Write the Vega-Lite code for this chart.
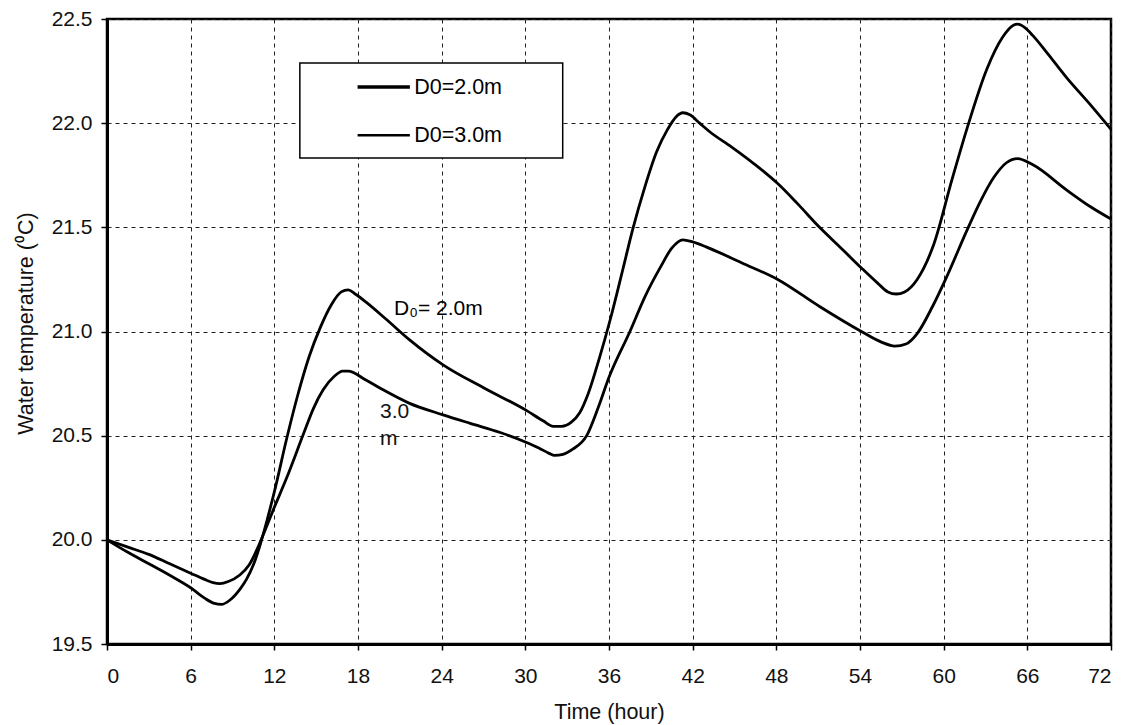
{
  "$schema": "https://vega.github.io/schema/vega-lite/v6.json",
  "autosize": {"type": "none"},
  "width": 1004,
  "height": 625,
  "padding": {"left": 107, "top": 19, "right": 14, "bottom": 81},
  "background": "white",
  "config": {
    "view": {"stroke": "black", "strokeWidth": 2.5},
    "font": "Liberation Sans",
    "axis": {
      "gridColor": "#222",
      "gridDash": [4, 4],
      "gridWidth": 1,
      "gridOpacity": 1,
      "domainColor": "black",
      "domainWidth": 3,
      "tickColor": "black",
      "tickWidth": 1.5,
      "tickSize": 6,
      "labelColor": "#111",
      "labelFont": "Liberation Sans",
      "labelFontSize": 21,
      "titleFont": "Liberation Sans",
      "titleFontSize": 21.5,
      "titleFontWeight": "normal",
      "titleColor": "#111"
    }
  },
  "datasets": {
    "temps": [
      {"hour": 0, "temp": 20.0, "series": "D0=2.0m"},
      {"hour": 1.5, "temp": 19.94, "series": "D0=2.0m"},
      {"hour": 3, "temp": 19.885, "series": "D0=2.0m"},
      {"hour": 4.5, "temp": 19.83, "series": "D0=2.0m"},
      {"hour": 6, "temp": 19.77, "series": "D0=2.0m"},
      {"hour": 7, "temp": 19.72, "series": "D0=2.0m"},
      {"hour": 7.7, "temp": 19.695, "series": "D0=2.0m"},
      {"hour": 8.2, "temp": 19.69, "series": "D0=2.0m"},
      {"hour": 8.8, "temp": 19.71, "series": "D0=2.0m"},
      {"hour": 9.5, "temp": 19.76, "series": "D0=2.0m"},
      {"hour": 10, "temp": 19.81, "series": "D0=2.0m"},
      {"hour": 10.5, "temp": 19.88, "series": "D0=2.0m"},
      {"hour": 11, "temp": 19.98, "series": "D0=2.0m"},
      {"hour": 11.5, "temp": 20.1, "series": "D0=2.0m"},
      {"hour": 12, "temp": 20.23, "series": "D0=2.0m"},
      {"hour": 12.9, "temp": 20.49, "series": "D0=2.0m"},
      {"hour": 13.7, "temp": 20.7, "series": "D0=2.0m"},
      {"hour": 14.5, "temp": 20.88, "series": "D0=2.0m"},
      {"hour": 15.3, "temp": 21.02, "series": "D0=2.0m"},
      {"hour": 16.1, "temp": 21.13, "series": "D0=2.0m"},
      {"hour": 16.8, "temp": 21.19, "series": "D0=2.0m"},
      {"hour": 17.3, "temp": 21.2, "series": "D0=2.0m"},
      {"hour": 17.8, "temp": 21.18, "series": "D0=2.0m"},
      {"hour": 18.6, "temp": 21.14, "series": "D0=2.0m"},
      {"hour": 20, "temp": 21.06, "series": "D0=2.0m"},
      {"hour": 21.7, "temp": 20.96, "series": "D0=2.0m"},
      {"hour": 24.1, "temp": 20.84, "series": "D0=2.0m"},
      {"hour": 27, "temp": 20.73, "series": "D0=2.0m"},
      {"hour": 30.1, "temp": 20.62, "series": "D0=2.0m"},
      {"hour": 31.3, "temp": 20.57, "series": "D0=2.0m"},
      {"hour": 32, "temp": 20.545, "series": "D0=2.0m"},
      {"hour": 32.6, "temp": 20.545, "series": "D0=2.0m"},
      {"hour": 33.3, "temp": 20.565, "series": "D0=2.0m"},
      {"hour": 33.9, "temp": 20.61, "series": "D0=2.0m"},
      {"hour": 34.5, "temp": 20.7, "series": "D0=2.0m"},
      {"hour": 35.3, "temp": 20.87, "series": "D0=2.0m"},
      {"hour": 36.1, "temp": 21.06, "series": "D0=2.0m"},
      {"hour": 37, "temp": 21.3, "series": "D0=2.0m"},
      {"hour": 37.7, "temp": 21.49, "series": "D0=2.0m"},
      {"hour": 38.6, "temp": 21.7, "series": "D0=2.0m"},
      {"hour": 39.4, "temp": 21.86, "series": "D0=2.0m"},
      {"hour": 40.2, "temp": 21.97, "series": "D0=2.0m"},
      {"hour": 40.8, "temp": 22.03, "series": "D0=2.0m"},
      {"hour": 41.3, "temp": 22.05, "series": "D0=2.0m"},
      {"hour": 41.8, "temp": 22.04, "series": "D0=2.0m"},
      {"hour": 42.5, "temp": 22.0, "series": "D0=2.0m"},
      {"hour": 43.2, "temp": 21.96, "series": "D0=2.0m"},
      {"hour": 44.8, "temp": 21.885, "series": "D0=2.0m"},
      {"hour": 46.4, "temp": 21.805, "series": "D0=2.0m"},
      {"hour": 48.1, "temp": 21.71, "series": "D0=2.0m"},
      {"hour": 49.5, "temp": 21.615, "series": "D0=2.0m"},
      {"hour": 51.1, "temp": 21.5, "series": "D0=2.0m"},
      {"hour": 52.8, "temp": 21.39, "series": "D0=2.0m"},
      {"hour": 54.1, "temp": 21.305, "series": "D0=2.0m"},
      {"hour": 55.3, "temp": 21.23, "series": "D0=2.0m"},
      {"hour": 56, "temp": 21.19, "series": "D0=2.0m"},
      {"hour": 56.6, "temp": 21.18, "series": "D0=2.0m"},
      {"hour": 57.2, "temp": 21.19, "series": "D0=2.0m"},
      {"hour": 58.1, "temp": 21.25, "series": "D0=2.0m"},
      {"hour": 59.3, "temp": 21.42, "series": "D0=2.0m"},
      {"hour": 60.6, "temp": 21.73, "series": "D0=2.0m"},
      {"hour": 61.7, "temp": 21.98, "series": "D0=2.0m"},
      {"hour": 63.1, "temp": 22.26, "series": "D0=2.0m"},
      {"hour": 64.2, "temp": 22.41, "series": "D0=2.0m"},
      {"hour": 65, "temp": 22.47, "series": "D0=2.0m"},
      {"hour": 65.3, "temp": 22.475, "series": "D0=2.0m"},
      {"hour": 65.8, "temp": 22.46, "series": "D0=2.0m"},
      {"hour": 66.4, "temp": 22.42, "series": "D0=2.0m"},
      {"hour": 67.5, "temp": 22.33, "series": "D0=2.0m"},
      {"hour": 68.8, "temp": 22.22, "series": "D0=2.0m"},
      {"hour": 70.5, "temp": 22.09, "series": "D0=2.0m"},
      {"hour": 72, "temp": 21.97, "series": "D0=2.0m"},
      {"hour": 0, "temp": 20.0, "series": "D0=3.0m"},
      {"hour": 1.5, "temp": 19.965, "series": "D0=3.0m"},
      {"hour": 3, "temp": 19.93, "series": "D0=3.0m"},
      {"hour": 4.5, "temp": 19.885, "series": "D0=3.0m"},
      {"hour": 6, "temp": 19.84, "series": "D0=3.0m"},
      {"hour": 7, "temp": 19.81, "series": "D0=3.0m"},
      {"hour": 7.6, "temp": 19.795, "series": "D0=3.0m"},
      {"hour": 8.1, "temp": 19.79, "series": "D0=3.0m"},
      {"hour": 8.7, "temp": 19.8, "series": "D0=3.0m"},
      {"hour": 9.5, "temp": 19.83, "series": "D0=3.0m"},
      {"hour": 10.2, "temp": 19.88, "series": "D0=3.0m"},
      {"hour": 10.8, "temp": 19.96, "series": "D0=3.0m"},
      {"hour": 11.3, "temp": 20.04, "series": "D0=3.0m"},
      {"hour": 11.9, "temp": 20.14, "series": "D0=3.0m"},
      {"hour": 12.9, "temp": 20.3, "series": "D0=3.0m"},
      {"hour": 14.1, "temp": 20.51, "series": "D0=3.0m"},
      {"hour": 14.8, "temp": 20.63, "series": "D0=3.0m"},
      {"hour": 15.5, "temp": 20.72, "series": "D0=3.0m"},
      {"hour": 16.3, "temp": 20.785, "series": "D0=3.0m"},
      {"hour": 16.9, "temp": 20.81, "series": "D0=3.0m"},
      {"hour": 17.3, "temp": 20.81, "series": "D0=3.0m"},
      {"hour": 18.5, "temp": 20.77, "series": "D0=3.0m"},
      {"hour": 19.8, "temp": 20.72, "series": "D0=3.0m"},
      {"hour": 21.7, "temp": 20.655, "series": "D0=3.0m"},
      {"hour": 24.1, "temp": 20.6, "series": "D0=3.0m"},
      {"hour": 26, "temp": 20.56, "series": "D0=3.0m"},
      {"hour": 28.2, "temp": 20.515, "series": "D0=3.0m"},
      {"hour": 30, "temp": 20.47, "series": "D0=3.0m"},
      {"hour": 31, "temp": 20.44, "series": "D0=3.0m"},
      {"hour": 31.7, "temp": 20.415, "series": "D0=3.0m"},
      {"hour": 32.1, "temp": 20.405, "series": "D0=3.0m"},
      {"hour": 32.7, "temp": 20.41, "series": "D0=3.0m"},
      {"hour": 33.4, "temp": 20.435, "series": "D0=3.0m"},
      {"hour": 34.4, "temp": 20.5, "series": "D0=3.0m"},
      {"hour": 35.2, "temp": 20.63, "series": "D0=3.0m"},
      {"hour": 36, "temp": 20.78, "series": "D0=3.0m"},
      {"hour": 37.5, "temp": 21.0, "series": "D0=3.0m"},
      {"hour": 38.6, "temp": 21.17, "series": "D0=3.0m"},
      {"hour": 39.7, "temp": 21.31, "series": "D0=3.0m"},
      {"hour": 40.5, "temp": 21.4, "series": "D0=3.0m"},
      {"hour": 41.3, "temp": 21.44, "series": "D0=3.0m"},
      {"hour": 42, "temp": 21.43, "series": "D0=3.0m"},
      {"hour": 43, "temp": 21.405, "series": "D0=3.0m"},
      {"hour": 45.5, "temp": 21.33, "series": "D0=3.0m"},
      {"hour": 48.1, "temp": 21.25, "series": "D0=3.0m"},
      {"hour": 51.1, "temp": 21.12, "series": "D0=3.0m"},
      {"hour": 54.1, "temp": 21.0, "series": "D0=3.0m"},
      {"hour": 55.5, "temp": 20.95, "series": "D0=3.0m"},
      {"hour": 56.5, "temp": 20.93, "series": "D0=3.0m"},
      {"hour": 57.3, "temp": 20.94, "series": "D0=3.0m"},
      {"hour": 58.1, "temp": 20.99, "series": "D0=3.0m"},
      {"hour": 59.2, "temp": 21.12, "series": "D0=3.0m"},
      {"hour": 60.2, "temp": 21.26, "series": "D0=3.0m"},
      {"hour": 61.7, "temp": 21.49, "series": "D0=3.0m"},
      {"hour": 62.6, "temp": 21.62, "series": "D0=3.0m"},
      {"hour": 63.6, "temp": 21.74, "series": "D0=3.0m"},
      {"hour": 64.5, "temp": 21.81, "series": "D0=3.0m"},
      {"hour": 65.3, "temp": 21.83, "series": "D0=3.0m"},
      {"hour": 66.4, "temp": 21.8, "series": "D0=3.0m"},
      {"hour": 68.8, "temp": 21.68, "series": "D0=3.0m"},
      {"hour": 70.5, "temp": 21.6, "series": "D0=3.0m"},
      {"hour": 72, "temp": 21.54, "series": "D0=3.0m"}
    ]
  },
  "encoding": {
    "x": {
      "type": "quantitative",
      "scale": {"domain": [0, 72], "nice": false, "zero": false},
      "axis": {
        "values": [0, 6, 12, 18, 24, 30, 36, 42, 48, 54, 60, 66, 72],
        "title": "Time (hour)",
        "labelPadding": 15,
        "labelOverlap": false,
        "titleY": 57,
        "titleBaseline": "top"
      }
    },
    "y": {
      "type": "quantitative",
      "scale": {"domain": [19.5, 22.5], "nice": false, "zero": false},
      "axis": {
        "values": [19.5, 20.0, 20.5, 21.0, 21.5, 22.0, 22.5],
        "format": ".1f",
        "title": "Water temperature (⁰C)",
        "labelPadding": 9,
        "labelOverlap": false,
        "titleX": -75,
        "titleY": 304,
        "titleAngle": 270,
        "titleBaseline": "alphabetic",
        "titleAlign": "center"
      }
    }
  },
  "layer": [
    {
      "data": {"name": "temps"},
      "mark": {"type": "line", "interpolate": "monotone", "strokeWidth": 2.8, "color": "black"},
      "encoding": {
        "x": {"field": "hour", "type": "quantitative"},
        "y": {"field": "temp", "type": "quantitative"},
        "detail": {"field": "series", "type": "nominal"}
      }
    },
    {
      "data": {"values": [{}]},
      "mark": {"type": "rect", "fill": "white", "stroke": "black", "strokeWidth": 1.5},
      "encoding": {
        "x": {"datum": 13.83},
        "x2": {"datum": 32.68},
        "y": {"datum": 22.289},
        "y2": {"datum": 21.833}
      }
    },
    {
      "data": {"values": [{}]},
      "mark": {"type": "rule", "color": "black", "strokeWidth": 3.5},
      "encoding": {
        "x": {"datum": 17.97},
        "x2": {"datum": 21.72},
        "y": {"datum": 22.174}
      }
    },
    {
      "data": {"values": [{}]},
      "mark": {"type": "rule", "color": "black", "strokeWidth": 2.5},
      "encoding": {
        "x": {"datum": 17.97},
        "x2": {"datum": 21.72},
        "y": {"datum": 21.942}
      }
    },
    {
      "data": {"values": [{}]},
      "mark": {"type": "text", "text": "D0=2.0m", "align": "left", "baseline": "middle", "fontSize": 21.5, "color": "black", "dy": 1},
      "encoding": {
        "x": {"datum": 22.03},
        "y": {"datum": 22.174}
      }
    },
    {
      "data": {"values": [{}]},
      "mark": {"type": "text", "text": "D0=3.0m", "align": "left", "baseline": "middle", "fontSize": 21.5, "color": "black", "dy": 1},
      "encoding": {
        "x": {"datum": 22.03},
        "y": {"datum": 21.942}
      }
    },
    {
      "data": {"values": [{}]},
      "mark": {"type": "text", "text": "D₀= 2.0m", "align": "left", "baseline": "alphabetic", "fontSize": 21, "color": "black"},
      "encoding": {
        "x": {"datum": 20.59},
        "y": {"datum": 21.079}
      }
    },
    {
      "data": {"values": [{}]},
      "mark": {"type": "text", "text": ["3.0", "m"], "lineHeight": 27, "align": "left", "baseline": "alphabetic", "fontSize": 21, "color": "#111"},
      "encoding": {
        "x": {"datum": 19.58},
        "y": {"datum": 20.583}
      }
    }
  ]
}
